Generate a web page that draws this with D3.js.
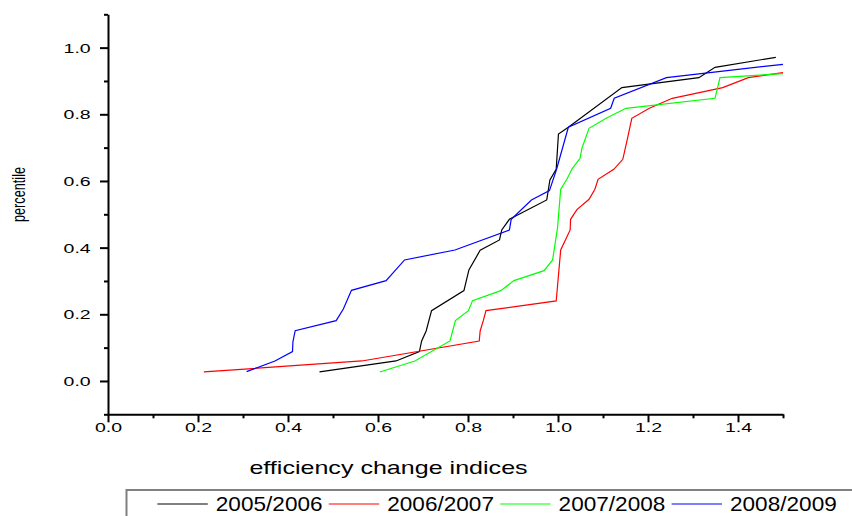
<!DOCTYPE html>
<html>
<head>
<meta charset="utf-8">
<script src="https://cdn.jsdelivr.net/npm/d3@7"></script>
<style>
  body { margin: 0; background: #fff; }
  svg { display: block; font-family: "Liberation Sans", Arial, sans-serif; }
</style>
</head>
<body>
<div id="chart"></div>
<script>
// Series names and colours (legend order)
const seriesNames = ['2005/2006', '2006/2007', '2007/2008', '2008/2009'];
const seriesColors = ['#000000', '#ff0000', '#00ff00', '#0000ff'];

// [efficiency change index, percentile]
const s2005 = [[0.47,0.027],[0.64,0.06],[0.692,0.088],[0.697,0.12],[0.707,0.15],[0.719,0.211],[0.791,0.271],[0.802,0.333],[0.827,0.392],[0.87,0.423],[0.875,0.453],[0.892,0.485],[0.975,0.543],[0.982,0.603],[0.996,0.635],[1.001,0.741],[1.023,0.761],[1.142,0.88],[1.313,0.91],[1.349,0.941],[1.484,0.971]];
const s2006 = [[0.213,0.027],[0.564,0.06],[0.825,0.12],[0.827,0.15],[0.834,0.181],[0.84,0.211],[0.996,0.24],[1.006,0.393],[1.027,0.453],[1.028,0.485],[1.042,0.514],[1.069,0.545],[1.082,0.575],[1.089,0.605],[1.124,0.635],[1.144,0.665],[1.154,0.725],[1.164,0.788],[1.203,0.818],[1.254,0.848],[1.366,0.88],[1.423,0.91],[1.5,0.925]];
const s2007 = [[0.604,0.027],[0.682,0.06],[0.76,0.12],[0.772,0.181],[0.801,0.211],[0.81,0.241],[0.873,0.271],[0.902,0.301],[0.969,0.331],[0.988,0.363],[0.999,0.46],[1.006,0.575],[1.02,0.606],[1.032,0.638],[1.049,0.668],[1.053,0.698],[1.069,0.758],[1.107,0.788],[1.151,0.818],[1.349,0.848],[1.36,0.91],[1.5,0.922]];
const s2008 = [[0.308,0.028],[0.371,0.06],[0.41,0.088],[0.411,0.118],[0.416,0.151],[0.507,0.181],[0.523,0.216],[0.541,0.272],[0.618,0.301],[0.659,0.363],[0.771,0.393],[0.892,0.453],[0.896,0.485],[0.941,0.543],[0.981,0.571],[0.997,0.636],[1.023,0.761],[1.117,0.818],[1.125,0.848],[1.241,0.91],[1.5,0.95]];

// Tick values
const xMajor = [0, 0.2, 0.4, 0.6, 0.8, 1.0, 1.2, 1.4];
const xMinor = [0.1, 0.3, 0.5, 0.7, 0.9, 1.1, 1.3, 1.5];
const yMajor = [0, 0.2, 0.4, 0.6, 0.8, 1.0];
const yMinor = [-0.1, 0.1, 0.3, 0.5, 0.7, 0.9, 1.1];

const allSeries = [s2005, s2006, s2007, s2008];

const width = 852;
const height = 516;

const svg = d3.select('#chart').append('svg')
  .attr('width', width)
  .attr('height', height);

// Scales
const x = d3.scaleLinear().domain([0, 1.5]).range([108, 783]);
const y = d3.scaleLinear().domain([-0.1, 1.1]).range([414.3, 14.3]);

const axisY0 = y(-0.1);

// Minor ticks first (no labels)
svg.append('g')
  .attr('transform', `translate(0,${axisY0})`)
  .call(d3.axisBottom(x).tickValues(xMinor).tickSize(4).tickSizeOuter(0).tickFormat(''))
  .call(g => g.select('.domain').remove());

svg.append('g')
  .attr('transform', `translate(${x(0)},0)`)
  .call(d3.axisLeft(y).tickValues(yMinor).tickSize(4).tickSizeOuter(0).tickFormat(''))
  .call(g => g.select('.domain').remove());

// Major x axis
const xAxisGroup = svg.append('g')
  .attr('transform', `translate(0,${axisY0})`)
  .call(d3.axisBottom(x).tickValues(xMajor).tickSize(8).tickSizeOuter(0).tickFormat(d3.format('.1f')));

xAxisGroup.selectAll('text')
  .attr('y', 17.5)
  .attr('dy', 0)
  .attr('transform', 'scale(1.5,1)')
  .style('font-size', '13px')
  .style('fill', 'black');

// Major y axis
const yAxisGroup = svg.append('g')
  .attr('transform', `translate(${x(0)},0)`)
  .call(d3.axisLeft(y).tickValues(yMajor).tickSize(8).tickSizeOuter(0).tickFormat(d3.format('.1f')));

yAxisGroup.selectAll('text')
  .attr('x', -17.3 / 1.5)
  .attr('dy', '0.36em')
  .attr('transform', 'scale(1.5,1)')
  .style('font-size', '13px')
  .style('fill', 'black');

svg.selectAll('.domain, .tick line')
  .attr('stroke', 'black')
  .attr('stroke-width', 2);

// Axis titles
svg.append('text')
  .attr('transform', 'translate(388.5,474) scale(1.32,1)')
  .attr('text-anchor', 'middle')
  .style('font-size', '19px')
  .text('efficiency change indices');

svg.append('text')
  .attr('transform', 'translate(25,194.5) rotate(-90) scale(0.67,1)')
  .attr('text-anchor', 'middle')
  .style('font-size', '19px')
  .text('percentile');

// Lines
const line = d3.line()
  .x(d => x(d[0]))
  .y(d => y(d[1]));

svg.selectAll('.series')
  .data(allSeries)
  .enter().append('path')
  .attr('class', 'series')
  .attr('d', line)
  .attr('fill', 'none')
  .attr('stroke', (d, i) => seriesColors[i])
  .attr('stroke-width', 1.2);

// Legend box (runs off the right and bottom edges)
svg.append('rect')
  .attr('x', 126.5)
  .attr('y', 490)
  .attr('width', 800)
  .attr('height', 100)
  .attr('fill', 'white')
  .attr('stroke', '#808080')
  .attr('stroke-width', 2);

const legend = svg.selectAll('.legend-item')
  .data(seriesNames)
  .enter().append('g')
  .attr('class', 'legend-item')
  .attr('transform', (d, i) => `translate(${157.4 + i * 171.4},0)`);

legend.append('line')
  .attr('x1', 0)
  .attr('x2', 50.4)
  .attr('y1', 504)
  .attr('y2', 504)
  .attr('stroke', (d, i) => seriesColors[i])
  .attr('stroke-width', 1.2);

legend.append('text')
  .attr('transform', 'translate(58.4,511) scale(1.13,1)')
  .style('font-size', '20px')
  .text(d => d);
</script>
</body>
</html>
